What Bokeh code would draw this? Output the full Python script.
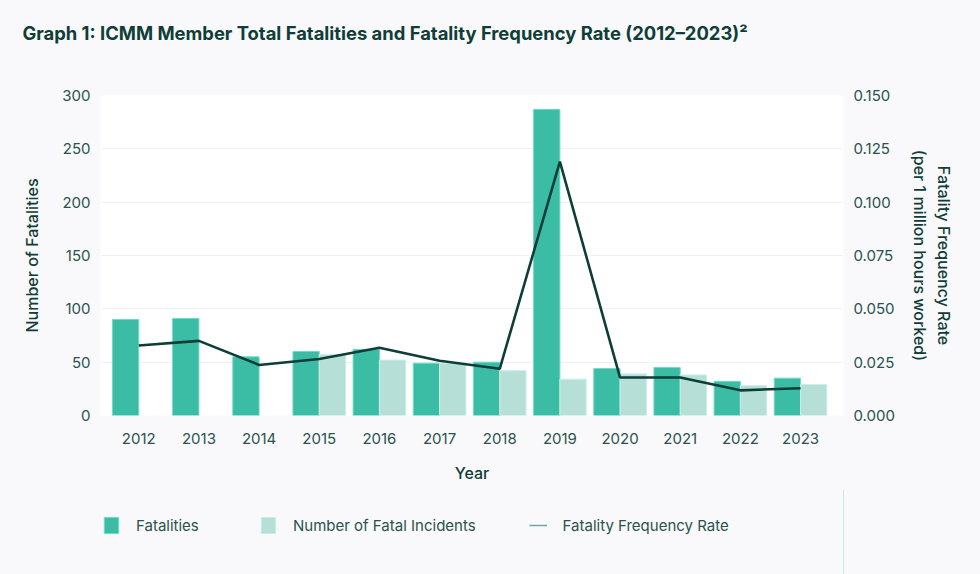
from bokeh.plotting import figure
from bokeh.layouts import column
from bokeh.models import (Range1d, LinearAxis, FixedTicker, NumeralTickFormatter,
                          Legend, LegendItem, ColumnDataSource, Title)
from bokeh.embed import file_html
from bokeh.resources import INLINE

years = [2012, 2013, 2014, 2015, 2016, 2017, 2018, 2019, 2020, 2021, 2022, 2023]
fatalities = [90, 91, 55, 60, 62, 49, 50, 287, 44, 45, 32, 35]
incident_years = [2015, 2016, 2017, 2018, 2019, 2020, 2021, 2022, 2023]
incidents = [57, 52, 49, 42, 34, 39, 38, 28, 29]
rate = [0.0328, 0.0350, 0.0237, 0.0265, 0.0318, 0.0257, 0.0219, 0.1190, 0.0178, 0.0178, 0.0118, 0.0128]
left_ticks = [0, 50, 100, 150, 200, 250, 300]
right_ticks = [0.0, 0.025, 0.05, 0.075, 0.1, 0.125, 0.15]
legend_labels = ["Fatalities", "Number of Fatal Incidents", "Fatality Frequency Rate"]
title_text = "Graph 1: ICMM Member Total Fatalities and Fatality Frequency Rate (2012\u20132023)\u00b2"

FONT = "Inter"
FONT_MED = "'Inter Medium', 'Inter SemiBold', Inter"
DARK = "#0f3d37"
TXT = "#2b524d"
C_FAT = "#3bbca5"
C_INC = "#b6e0d7"
C_LEG_LINE = "#6aa8a0"
BG = "#f9f9fb"

p = figure(width=980, height=490, output_backend="svg", toolbar_location=None,
           x_range=Range1d(2011.364, 2023.714), y_range=Range1d(0, 300),
           min_border_left=100, min_border_right=137, min_border_top=95, min_border_bottom=75)
p.title = None
p.border_fill_color = BG
p.background_fill_color = "#ffffff"
p.outline_line_color = None

# spacer title nearest the frame, then the real title further out
p.add_layout(Title(text=" ", text_font_size="10px", standoff=34, text_color=BG), "above")
p.add_layout(Title(text=title_text, text_font=FONT, text_font_size="18.4px",
                   text_font_style="bold", text_color=DARK, align="left",
                   offset=-78, standoff=10), "above")

p.extra_y_ranges = {"rate": Range1d(0, 0.15)}

fat_src = ColumnDataSource(dict(x=[y - 0.2186 for y in years], top=fatalities))
inc_src = ColumnDataSource(dict(x=[y + 0.2186 for y in incident_years], top=incidents))
rate_src = ColumnDataSource(dict(x=years, y=rate))
p.vbar(x="x", top="top", width=0.437, source=fat_src, fill_color=C_FAT,
       line_color="#6fdcc4", line_width=1)
p.vbar(x="x", top="top", width=0.437, source=inc_src, fill_color=C_INC,
       line_color="#c8efe6", line_width=1)
p.line(x="x", y="y", source=rate_src, y_range_name="rate", line_color=DARK, line_width=2.6)

# axes
p.xaxis.ticker = FixedTicker(ticks=years)
p.xaxis.axis_label = "Year"
p.yaxis.ticker = FixedTicker(ticks=left_ticks)
p.yaxis.axis_label = "Number of Fatalities"

ax_r = LinearAxis(y_range_name="rate", ticker=FixedTicker(ticks=right_ticks),
                  formatter=NumeralTickFormatter(format="0.000"),
                  axis_label="Fatality Frequency Rate\n(per 1 million hours worked)")
p.add_layout(ax_r, "right")

for ax in [p.xaxis[0], p.yaxis[0], ax_r]:
    ax.axis_line_color = None
    ax.major_tick_line_color = None
    ax.minor_tick_line_color = None
    ax.major_tick_out = 0
    ax.major_tick_in = 0
    ax.major_label_text_font = FONT
    ax.major_label_text_font_size = "15px"
    ax.major_label_text_color = TXT
    ax.axis_label_text_font = FONT_MED
    ax.axis_label_text_font_size = "16px"
    ax.axis_label_text_font_style = "normal"
    ax.axis_label_text_color = DARK

p.xaxis.major_label_standoff = 17
p.xaxis.axis_label_standoff = 16
p.yaxis.major_label_standoff = 10
p.yaxis.axis_label_standoff = 17
ax_r.major_label_standoff = 10
ax_r.axis_label_standoff = 12

p.xgrid.grid_line_color = None
p.ygrid.grid_line_color = "#f1f1f3"
p.ygrid.ticker = FixedTicker(ticks=left_ticks)

# legend strip below the chart (its renderers use the same data, outside its view)
pl = figure(width=980, height=84, output_backend="svg", toolbar_location=None,
            x_range=Range1d(0, 1), y_range=Range1d(0, 1),
            x_axis_type=None, y_axis_type=None,
            min_border_left=100, min_border_right=137, min_border_top=0, min_border_bottom=0)
pl.title = None
pl.border_fill_alpha = 0
pl.background_fill_alpha = 0
pl.outline_line_color = None
pl.grid.visible = False
lg_fat = pl.vbar(x="x", top="top", width=0.437, source=fat_src, fill_color=C_FAT,
                 line_color="#6fdcc4", line_width=1)
lg_inc = pl.vbar(x="x", top="top", width=0.437, source=inc_src, fill_color=C_INC,
                 line_color="#c8efe6", line_width=1)
lg_line = pl.line(x="x", y="y", source=rate_src, line_color=C_LEG_LINE, line_width=1.5)

legend = Legend(items=[LegendItem(label=legend_labels[0], renderers=[lg_fat]),
                       LegendItem(label=legend_labels[1], renderers=[lg_inc]),
                       LegendItem(label=legend_labels[2], renderers=[lg_line])],
                orientation="horizontal", location=(2, 39),
                glyph_width=18, glyph_height=20, label_standoff=16, spacing=53,
                label_width=70, padding=0, margin=0,
                border_line_alpha=0, background_fill_alpha=0,
                label_text_font=FONT, label_text_font_size="15px", label_text_color=TXT)
pl.add_layout(legend)

layout = column(p, pl, spacing=0, styles={"background-color": BG})
open("out.html", "w").write(file_html(layout, INLINE))
